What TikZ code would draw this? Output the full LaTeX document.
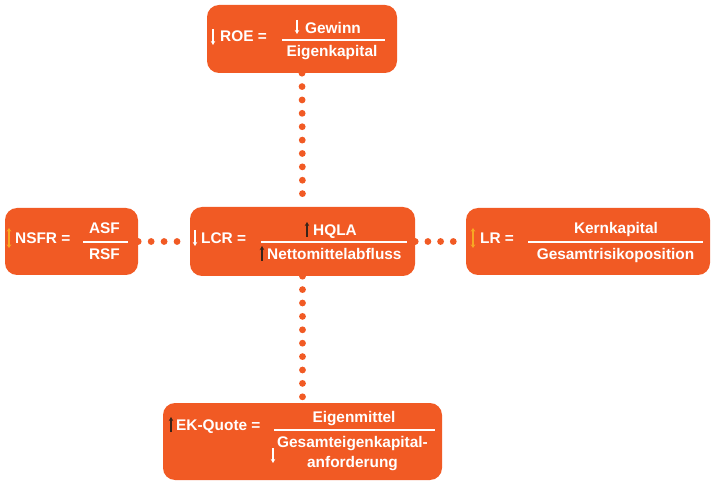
\documentclass[tikz,border=0pt]{standalone}
\usepackage{fontspec}
\setmainfont{Liberation Sans}
\usetikzlibrary{arrows.meta,backgrounds}
\definecolor{kpiorange}{HTML}{F15A24}
\definecolor{kpiyellow}{HTML}{F7A823}
\definecolor{kpidark}{HTML}{3A2418}

\begin{document}
\begin{tikzpicture}[
x=1pt, y=-1pt,
box/.style={fill=kpiorange, rounded corners=12pt, inner sep=0pt},
txt/.style={text=white, font=\bfseries\fontsize{15.4}{18}\selectfont, inner sep=0pt},
lbl/.style={txt, anchor=base west},
frc/.style={txt, anchor=base},
fracline/.style={draw=white, line width=1.3pt},
dotline/.style={draw=kpiorange, line width=6.8pt, line cap=round, dash pattern=on 0pt off #1},
arr/.style={-{Stealth[length=4pt,width=4.5pt]}, line width=1.1pt, draw=#1},
darr/.style={{Stealth[length=3.5pt,width=4.5pt]}-{Stealth[length=3.5pt,width=4.5pt]}, line width=1.1pt, draw=#1}
]
\useasboundingbox (0,0) rectangle (713,481);

% boxes
\node[box, minimum width=190pt, minimum height=68pt] (roe) at (302,39) {};
\node[box, minimum width=133pt, minimum height=67pt] (nsfr) at (71.5,241.5) {};
\node[box, minimum width=225pt, minimum height=69pt] (lcr) at (302.5,241.5) {};
\node[box, minimum width=244pt, minimum height=67pt] (lr) at (588,241.5) {};
\node[box, minimum width=279pt, minimum height=77pt] (ek) at (302.5,441.5) {};

% dotted links
\begin{scope}[on background layer]
\draw[dotline=13.38pt] (roe.south) -- (lcr.north);
\draw[dotline=12.95pt] (nsfr.east) -- (lcr.west);
\draw[dotline=12.7pt] (lcr.east) -- (lr.west);
\draw[dotline=13.4pt] (lcr.south) -- (ek.north);
\end{scope}

% ROE
\node[lbl] (roelbl) at (220,42) {ROE =};
\node[lbl] (roenum) at (305,33.5) {Gewinn};
\node[frc] (roeden) at (332,57) {Eigenkapital};
\draw[fracline] (282,40) -- (385,40);
\draw[arr=white] (213,29) -- (213,45);
\draw[arr=white] (297,20) -- (297,34);

% NSFR
\node[lbl] (nsfrlbl) at (15,244) {NSFR =};
\node[frc] (nsfrnum) at (104.5,234) {ASF};
\node[frc] (nsfrden) at (104.5,259.5) {RSF};
\draw[fracline] (83,242) -- (128,242);
\draw[darr=kpiyellow] (9,228) -- (9,248);

% LCR
\node[lbl] (lcrlbl) at (201,243.5) {LCR =};
\node[lbl] (lcrnum) at (313,236) {HQLA};
\node[lbl] (lcrden) at (267,260) {Nettomittelabfluss};
\draw[fracline] (261,242) -- (407,242);
\draw[arr=white] (195,230) -- (195,246);
\draw[arr=kpidark] (307,237) -- (307,222);
\draw[arr=kpidark] (262,261) -- (262,246);

% LR
\node[lbl] (lrlbl) at (480,244) {LR =};
\node[frc] (lrnum) at (616,234) {Kernkapital};
\node[frc] (lrden) at (615.5,259.5) {Gesamtrisikoposition};
\draw[fracline] (528,242) -- (703,242);
\draw[darr=kpiyellow] (473,228) -- (473,248);

% EK-Quote
\node[lbl] (eklbl) at (176,431) {EK-Quote =};
\node[frc] (eknum) at (354,422) {Eigenmittel};
\node[frc] (ekden) at (352.5,447.5) {Gesamteigenkapital-};
\node[frc] (ekden2) at (352.5,467) {anforderung};
\draw[fracline] (274,430) -- (435,430);
\draw[arr=kpidark] (171,432) -- (171,417);
\draw[arr=white] (273,448) -- (273,463);
\end{tikzpicture}
\end{document}
